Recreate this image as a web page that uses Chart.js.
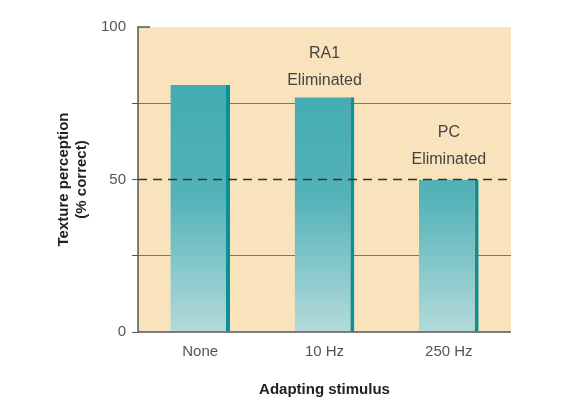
<!DOCTYPE html>
<html><head><script src="https://cdn.jsdelivr.net/npm/chart.js@4"></script>
<style>body{margin:0;background:#fff}#w{width:583px;height:415px}</style></head>
<body><div id="w"><canvas id="c"></canvas></div>
<script>
const categories=["None","10 Hz","250 Hz"];
const values=[81,77,50];
const notes=[[],["RA1","Eliminated"],["PC","Eliminated"]];
const noteValues=[0,81,55];
const chanceLevel=50;
const bg={id:'bg',beforeDraw(c){const a=c.chartArea,x=c.ctx;x.save();x.fillStyle='#f8e3bd';x.fillRect(a.left,a.top,a.right-a.left,a.bottom-a.top);x.restore();},
afterDatasetsDraw(c){const a=c.chartArea,x=c.ctx,y=c.scales.y,xs=c.scales.x;x.save();x.strokeStyle='#333';x.lineWidth=1.6;x.setLineDash([9,6]);const py=y.getPixelForValue(chanceLevel);x.beginPath();x.moveTo(a.left,py);x.lineTo(a.right,py);x.stroke();x.setLineDash([]);
x.fillStyle='#444';x.font='16px "Liberation Sans", Arial';x.textAlign='center';
notes.forEach((n,i)=>{if(!n.length)return;const px=xs.getPixelForValue(i);const p0=y.getPixelForValue(noteValues[i]);n.forEach((t,j)=>x.fillText(t,px,p0-(n.length-1-j)*27));});
x.strokeStyle='#555';x.lineWidth=1.5;x.beginPath();x.moveTo(a.left+12,a.top);x.lineTo(a.left,a.top);x.lineTo(a.left,a.bottom);x.lineTo(a.right,a.bottom);x.stroke();x.restore();}};
new Chart(document.getElementById('c'),{type:'bar',
data:{labels:categories,datasets:[{data:values,
backgroundColor(ctx){const a=ctx.chart.chartArea;if(!a)return '#3aa9b0';const g=ctx.chart.ctx.createLinearGradient(0,a.top,0,a.bottom);g.addColorStop(0,'#3aa9b0');g.addColorStop(0.55,'#52b2b8');g.addColorStop(1,'#b4dadb');return g;},
borderColor:'#0a9096',borderWidth:{right:4,top:0,left:0,bottom:0},borderSkipped:false,barPercentage:0.48,categoryPercentage:1}]},
options:{responsive:true,maintainAspectRatio:false,animation:false,
layout:{padding:{left:51,right:72,top:27,bottom:12}},
plugins:{legend:{display:false},tooltip:{enabled:false}},
scales:{y:{min:0,max:100,ticks:{stepSize:25,color:'#555',font:{size:15,family:'Liberation Sans'},padding:6,callback:v=>v%50===0?v:''},
grid:{color(c){return c.tick&&(c.tick.value===25||c.tick.value===75)?'#777':'rgba(0,0,0,0)';},drawTicks:true,tickLength:6,tickColor:c=>c.tick.value%25===0&&c.tick.value!==100?'#555':'rgba(0,0,0,0)'},border:{display:false},
title:{display:true,text:['Texture perception','(% correct)'],color:'#222',font:{size:15,weight:'bold',family:'Liberation Sans'},padding:4}},
x:{ticks:{color:'#555',font:{size:15,family:'Liberation Sans'}},grid:{display:false},border:{display:false},
title:{display:true,text:'Adapting stimulus',color:'#222',font:{size:15,weight:'bold',family:'Liberation Sans'},padding:{top:17}}}}},
plugins:[bg]});
</script></body></html>
